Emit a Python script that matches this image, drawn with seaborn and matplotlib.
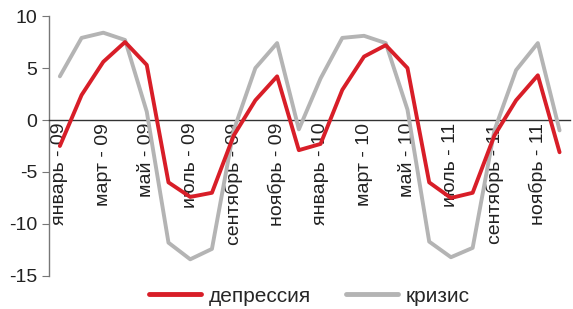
import numpy as np
import pandas as pd
import matplotlib.pyplot as plt
import seaborn as sns

# monthly values, Jan 09 .. Dec (2nd year)
depressiya = [-2.5, 2.4, 5.6, 7.5, 5.3, -6.0, -7.4, -7.0, -1.5, 1.9, 4.2, -2.9,
              -2.3, 2.9, 6.1, 7.2, 5.0, -6.0, -7.5, -7.0, -1.5, 1.9, 4.3, -3.1]
krizis = [4.2, 7.9, 8.4, 7.7, 0.8, -11.8, -13.4, -12.4, -1.0, 5.0, 7.4, -0.9,
          4.0, 7.9, 8.1, 7.4, 1.0, -11.7, -13.2, -12.3, -1.0, 4.8, 7.4, -1.0]
tick_labels = ["январь - 09", "март - 09", "май - 09", "июль - 09",
               "сентябрь - 09", "ноябрь - 09", "январь - 10", "март - 10",
               "май - 10", "июль - 11", "сентябрь - 11", "ноябрь - 11"]
series_names = ["депрессия", "кризис"]

n = len(depressiya)
df = pd.DataFrame({
    "month": list(range(n)) * 2,
    "value": depressiya + krizis,
    "series": [series_names[0]] * n + [series_names[1]] * n,
})

sns.set_style("white")
plt.rcParams['font.family'] = ['Liberation Sans', 'DejaVu Sans']
plt.rcParams['axes.unicode_minus'] = False

fig = plt.figure(figsize=(5.73, 3.09), dpi=100)
ax = fig.add_axes([0.0855, 0.107, 0.91, 0.841])

sns.lineplot(data=df, x="month", y="value", hue="series",
             palette={"депрессия": "#d81e28", "кризис": "#b4b4b4"},
             hue_order=["кризис", "депрессия"], linewidth=2.8, ax=ax)
# lines sit on top of the axis labels, like in the original
for line in ax.get_lines():
    line.set_zorder(3)

ax.set_xlim(-0.5, n - 0.5)
ax.set_ylim(-15, 10)
ax.set_yticks([-15, -10, -5, 0, 5, 10])
ax.set_xlabel("")
ax.set_ylabel("")

for side in ["top", "right"]:
    ax.spines[side].set_visible(False)
ax.spines["bottom"].set_position(("data", 0))
ax.spines["bottom"].set_color("#333333")
ax.spines["left"].set_color("#777777")
ax.spines["bottom"].set_linewidth(1.0)
ax.spines["left"].set_linewidth(1.0)

ax.set_xticks(np.arange(0, n, 2))
ax.set_xticklabels(tick_labels, rotation=90, va="top", ha="center")
ax.set_xticks(np.arange(-0.5, n, 2)[1:], minor=True)
ax.tick_params(axis="x", which="major", length=0, pad=2, labelsize=14, colors="#222222")
ax.tick_params(axis="x", which="minor", length=5, direction="out", color="#333333")
ax.tick_params(axis="y", length=5, direction="out", color="#777777", labelsize=14,
               labelcolor="#222222", left=True)

handles, labels = ax.get_legend_handles_labels()
order = [labels.index("депрессия"), labels.index("кризис")]
leg = ax.legend([handles[i] for i in order], [labels[i] for i in order],
                loc="center", bbox_to_anchor=(0.54, 0.042), bbox_transform=fig.transFigure,
                ncol=2, frameon=False, fontsize=15, handlelength=2.5, columnspacing=1.7,
                handletextpad=0.35)
for line in leg.get_lines():
    line.set_linewidth(3.5)

fig.savefig("out.png", dpi=100)
